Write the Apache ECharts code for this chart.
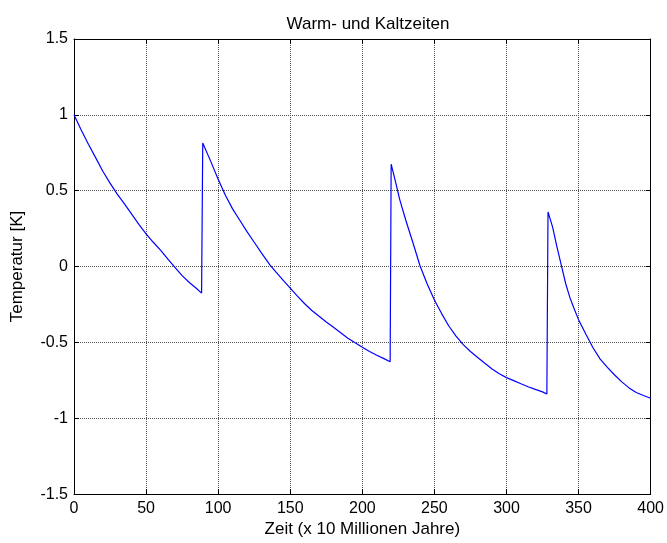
<!DOCTYPE html>
<html>
<head>
<meta charset="utf-8">
<script src="https://cdn.jsdelivr.net/npm/echarts@6/dist/echarts.min.js"></script>
<style>
html,body{margin:0;padding:0;background:#fff;}
#chart{width:667px;height:543px;}
</style>
</head>
<body>
<div id="chart"></div>
<script>
// Data
const seg1X = [0, 5, 10, 15, 20, 25, 30, 35, 40, 45, 50, 55, 60, 65, 70, 75, 80, 85, 88.5];
const seg1Y = [1.0, 0.90, 0.806, 0.718, 0.628, 0.55, 0.477, 0.413, 0.345, 0.278, 0.215, 0.16, 0.108, 0.05, -0.005, -0.06, -0.105, -0.145, -0.175];
const seg2X = [89.3, 95, 100, 105, 110, 115, 120, 125, 130, 136, 140, 145, 150, 155, 160, 165, 170, 175, 180, 185, 190, 195, 200, 205, 210, 215, 219.3];
const seg2Y = [0.815, 0.69, 0.575, 0.47, 0.38, 0.305, 0.23, 0.16, 0.09, 0.01, -0.035, -0.09, -0.142, -0.195, -0.245, -0.29, -0.328, -0.365, -0.40, -0.437, -0.472, -0.503, -0.532, -0.56, -0.585, -0.607, -0.628];
const seg3X = [220, 223, 226, 230, 235, 240, 245, 250, 255, 260, 265, 270, 275, 280, 285, 290, 295, 300, 305, 310, 315, 320, 325, 328];
const seg3Y = [0.675, 0.56, 0.44, 0.31, 0.16, 0.005, -0.115, -0.22, -0.31, -0.392, -0.458, -0.515, -0.56, -0.60, -0.638, -0.675, -0.707, -0.732, -0.752, -0.773, -0.792, -0.81, -0.826, -0.84];
const seg4X = [328.8, 332, 335, 338, 341, 344, 347, 350, 355, 360, 365, 370, 375, 380, 385, 390, 395, 400];
const seg4Y = [0.36, 0.26, 0.13, 0.01, -0.11, -0.205, -0.28, -0.35, -0.445, -0.535, -0.61, -0.665, -0.715, -0.76, -0.80, -0.83, -0.85, -0.868];

const titleText = 'Warm- und Kaltzeiten';
const xLabel = 'Zeit (x 10 Millionen Jahre)';
const yLabel = 'Temperatur [K]';

const xs = seg1X.concat(seg2X, seg3X, seg4X);
const ys = seg1Y.concat(seg2Y, seg3Y, seg4Y);
const data = xs.map((x, i) => [x, ys[i]]);

const FONT = "'Liberation Sans', Arial, sans-serif";
const grid = { left: 74, right: 14, top: 39, bottom: 46 };
const gridLine = { show: true, lineStyle: { color: '#505050', type: [1, 1], width: 1 } };
const axLine = { show: true, onZero: false, lineStyle: { color: '#000', width: 1 } };
const axTick = { show: true, inside: true, length: 5, lineStyle: { color: '#000' } };

const chart = echarts.init(document.getElementById('chart'), null, { renderer: 'canvas' });
chart.setOption({
  animation: false,
  backgroundColor: '#fff',
  title: {
    text: titleText,
    left: 363,
    top: 11,
    textAlign: 'center',
    textStyle: { fontFamily: FONT, fontSize: 17, fontWeight: 'normal', color: '#000' }
  },
  grid: grid,
  xAxis: [
    {
      type: 'value', min: 0, max: 400, interval: 50, position: 'bottom',
      name: xLabel, nameLocation: 'middle', nameGap: 25,
      nameTextStyle: { fontFamily: FONT, fontSize: 17, color: '#000' },
      axisLine: axLine, axisTick: axTick, splitLine: gridLine,
      axisLabel: { fontFamily: FONT, fontSize: 16, color: '#000', margin: 6 }
    },
    {
      type: 'value', min: 0, max: 400, interval: 50, position: 'top',
      axisLine: axLine, axisTick: axTick, splitLine: { show: false },
      axisLabel: { show: false }
    }
  ],
  yAxis: [
    {
      type: 'value', min: -1.5, max: 1.5, interval: 0.5, position: 'left',
      name: yLabel, nameLocation: 'middle', nameGap: 48, nameRotate: 90,
      nameTextStyle: { fontFamily: FONT, fontSize: 17, color: '#000' },
      axisLine: axLine, axisTick: axTick, splitLine: gridLine,
      axisLabel: { fontFamily: FONT, fontSize: 16, color: '#000', margin: 6 }
    },
    {
      type: 'value', min: -1.5, max: 1.5, interval: 0.5, position: 'right',
      axisLine: axLine, axisTick: axTick, splitLine: { show: false },
      axisLabel: { show: false }
    }
  ],
  series: [{
    type: 'line',
    data: data,
    xAxisIndex: 0,
    yAxisIndex: 0,
    showSymbol: false,
    symbol: 'none',
    lineStyle: { color: '#0000ff', width: 1.2 },
    itemStyle: { color: '#0000ff' }
  }]
});
</script>
</body>
</html>
